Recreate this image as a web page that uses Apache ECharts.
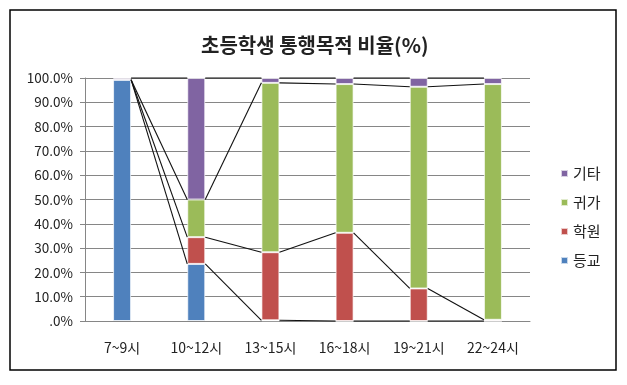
<!DOCTYPE html>
<html><head><meta charset="utf-8">
<script src="https://cdn.jsdelivr.net/npm/echarts@6/dist/echarts.min.js"></script>
<style>html,body{margin:0;padding:0;background:#fff}#c{width:627px;height:385px}</style>
</head><body><div id="c"></div>
<script>
var categories = ['7~9시', '10~12시', '13~15시', '16~18시', '19~21시', '22~24시'];
var deunggyo = [99.3, 23.5, 0.3, 0, 0, 0];
var hakwon = [0, 11, 28, 36.3, 13.4, 0.5];
var gwiga = [0, 15.5, 69.7, 61.2, 83, 97];
var gita = [0.7, 50, 2, 2.5, 3.6, 2.5];
var yTicks = [0, 10, 20, 30, 40, 50, 60, 70, 80, 90, 100];
var seriesNames = ['등교', '학원', '귀가', '기타'];
var seriesData = [deunggyo, hakwon, gwiga, gita];
var colors = ['#4F81BD', '#C0504D', '#9BBB59', '#8064A2'];
var BAR_W = 18;
var FONT = '"Noto Sans CJK KR", "Noto Sans", sans-serif';

var lineData = [];
var cum = categories.map(function () { return 0; });
seriesData.forEach(function (arr) {
  cum = cum.map(function (c, i) { return c + arr[i]; });
  for (var i = 0; i < categories.length - 1; i++) {
    lineData.push([i, cum[i], cum[i + 1]]);
  }
});

var series = seriesNames.map(function (n, k) {
  return {
    name: n, type: 'bar', stack: 'all', barWidth: BAR_W,
    itemStyle: { color: colors[k], borderColor: 'rgba(255,255,255,0.7)', borderWidth: 1 },
    data: seriesData[k]
  };
});
series.push({
  type: 'custom', name: 'lines', z: 5, silent: true,
  data: lineData,
  encode: { x: 0, y: [1, 2] },
  renderItem: function (params, api) {
    var p1 = api.coord([api.value(0), api.value(1)]);
    var p2 = api.coord([api.value(0) + 1, api.value(2)]);
    return {
      type: 'line',
      shape: { x1: p1[0] + BAR_W / 2, y1: p1[1], x2: p2[0] - BAR_W / 2, y2: p2[1] },
      style: { stroke: '#111', lineWidth: 1.1 }
    };
  }
});

var chart = echarts.init(document.getElementById('c'));
chart.setOption({
  animation: false,
  title: {
    text: '초등학생 통행목적 비율(%)', top: 30, left: 196,
    textStyle: { fontFamily: FONT, fontSize: 20, fontWeight: 'bold', color: '#222' }
  },
  graphic: [{
    type: 'rect', shape: { x: 10, y: 10, width: 606, height: 360 },
    style: { fill: 'none', stroke: '#000', lineWidth: 1.5 }, z: 100
  }],
  legend: {
    data: ['기타', '귀가', '학원', '등교'],
    orient: 'vertical', left: 555, top: 161,
    itemWidth: 7, itemHeight: 7, itemGap: 14, icon: 'rect',
    textStyle: { fontFamily: FONT, fontSize: 15, color: '#222' }
  },
  grid: { left: 85, right: 97, top: 78, bottom: 64 },
  xAxis: {
    type: 'category', data: categories,
    axisLine: { lineStyle: { color: '#868686' } },
    axisTick: { show: false },
    axisLabel: { margin: 20, fontFamily: FONT, fontSize: 14, color: '#222' }
  },
  yAxis: {
    type: 'value', min: 0, max: 100, interval: 10,
    axisLine: { show: true, lineStyle: { color: '#868686' } },
    axisTick: { show: true, length: 5, lineStyle: { color: '#868686' } },
    splitLine: { lineStyle: { color: '#868686' } },
    axisLabel: {
      margin: 12, fontFamily: FONT, fontSize: 13.5, color: '#222',
      formatter: function (v) { return yTicks.indexOf(v) >= 0 ? (v === 0 ? '.0%' : v.toFixed(1) + '%') : ''; }
    }
  },
  series: series
});
</script></body></html>
